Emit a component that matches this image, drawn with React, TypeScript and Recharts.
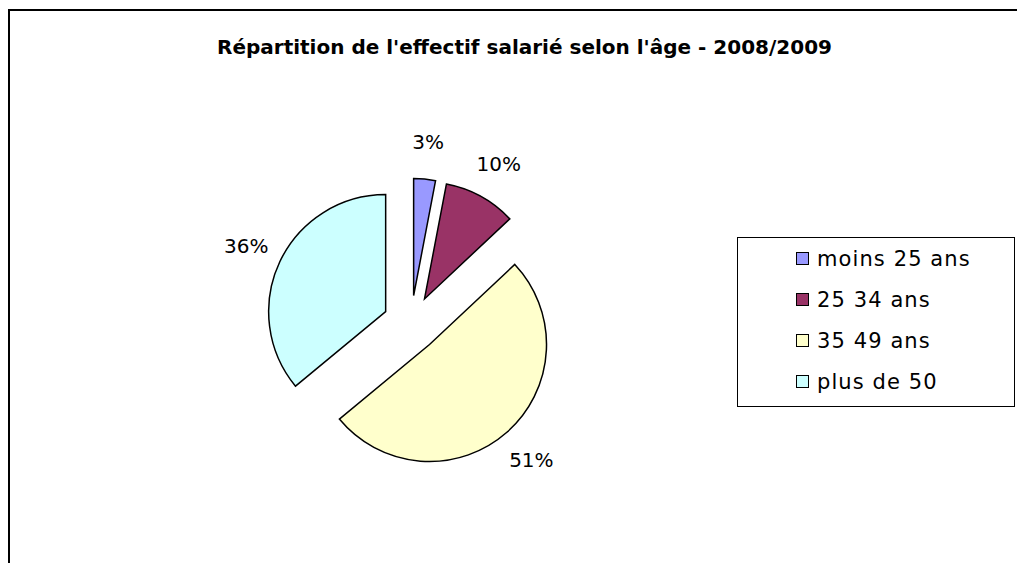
import React from 'react';
import { PieChart, Pie, Cell, Legend } from 'recharts';

const AGE_GROUPS = ['moins 25 ans', '25 34 ans', '35 49 ans', 'plus de 50'];
const SHARES = [3, 10, 51, 36];
const COLORS = ['#9999ff', '#993366', '#ffffcc', '#ccffff'];
const TITLE = "Répartition de l'effectif salarié selon l'âge - 2008/2009";

const data = AGE_GROUPS.map((name, i) => ({ name, value: SHARES[i] }));
const total = SHARES.reduce((a, b) => a + b, 0);

const FONT = '"DejaVu Sans", Verdana, sans-serif';
const CX = 401;
const CY = 312.5;
const RADIUS = 117;
const EXPLODE = 28;
const RAD = Math.PI / 180;

// mid angle of a slice in recharts degrees (pie starts at 12 o'clock, clockwise)
const midAngle = (i: number) => {
  const before = SHARES.slice(0, i).reduce((a, b) => a + b, 0);
  return 90 - (360 * (before + SHARES[i] / 2)) / total;
};

const renderLabel = (slice: number) => (props: any) => {
  const name = props.name ?? props.payload?.name;
  if (name !== AGE_GROUPS[slice]) return null;
  const r = props.outerRadius + 37;
  const x = props.cx + r * Math.cos(-props.midAngle * RAD);
  const y = props.cy + r * Math.sin(-props.midAngle * RAD);
  return (
    <text x={x} y={y} textAnchor="middle" dominantBaseline="central" fontSize={20} fontFamily={FONT} fill="#000">
      {`${SHARES[slice]}%`}
    </text>
  );
};

const AgeLegend = () => (
  <div style={{ border: '1px solid #000', height: 170, boxSizing: 'border-box', background: '#fff' }}>
    {AGE_GROUPS.map((g, i) => (
      <div key={g} style={{ height: 41, display: 'flex', alignItems: 'center', paddingLeft: 58 }}>
        <span
          style={{
            width: 13,
            height: 13,
            border: '1px solid #000',
            background: COLORS[i],
            boxSizing: 'border-box',
            marginRight: 8,
          }}
        />
        <span style={{ fontSize: 21, fontFamily: FONT, color: '#000', letterSpacing: 1.1 }}>{g}</span>
      </div>
    ))}
  </div>
);

const App: React.FC = () => {
  return (
    <div
      style={{
        position: 'absolute',
        left: 8,
        top: 9,
        width: 1009,
        height: 554,
        borderTop: '2px solid #000',
        borderLeft: '2px solid #000',
        boxSizing: 'border-box',
        background: '#fff',
      }}
    >
      <div
        style={{
          position: 'absolute',
          left: 114.5,
          width: 800,
          top: 24,
          lineHeight: '24px',
          textAlign: 'center',
          fontFamily: FONT,
          fontWeight: 'bold',
          fontSize: 20,
          color: '#000',
        }}
      >
        {TITLE}
      </div>
      <PieChart width={1007} height={552} margin={{ top: 0, right: 0, bottom: 0, left: 0 }}>
        {data.map((entry, i) => {
          const mid = midAngle(i);
          return (
            <Pie
              key={entry.name}
              data={data}
              dataKey="value"
              nameKey="name"
              cx={CX + EXPLODE * Math.cos(mid * RAD)}
              cy={CY - EXPLODE * Math.sin(mid * RAD)}
              outerRadius={RADIUS}
              startAngle={90}
              endAngle={-270}
              labelLine={false}
              label={renderLabel(i)}
              legendType="none"
              isAnimationActive={false}
            >
              {data.map((d, j) => (
                <Cell
                  key={d.name}
                  fill={j === i ? COLORS[j] : 'none'}
                  stroke={j === i ? '#000' : 'none'}
                  strokeWidth={1.5}
                />
              ))}
            </Pie>
          );
        })}
        <Legend
          layout="vertical"
          align="right"
          verticalAlign="middle"
          width={278}
          wrapperStyle={{ left: 727, top: 226, right: 'auto' }}
          content={() => <AgeLegend />}
        />
      </PieChart>
    </div>
  );
};

export default App;
